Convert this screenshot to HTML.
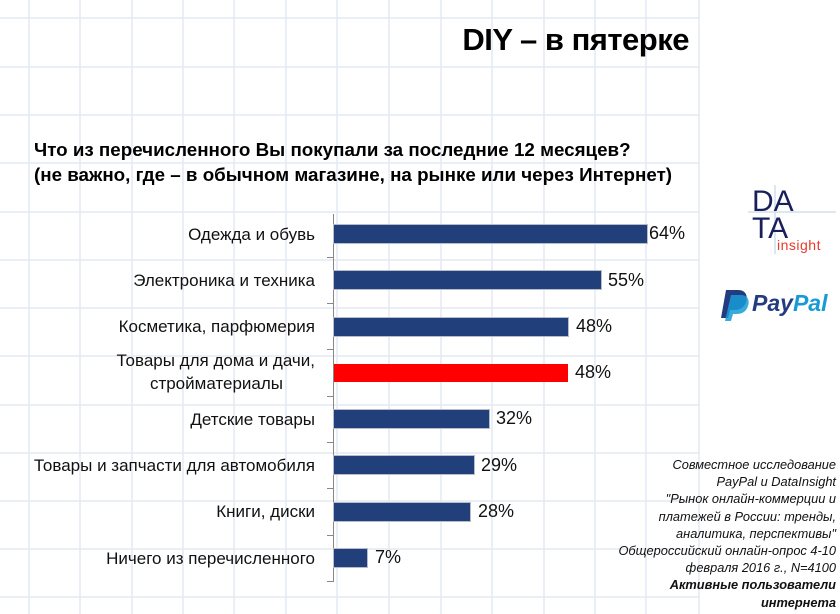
<!DOCTYPE html>
<html><head><meta charset="utf-8"><style>
body{margin:0;width:840px;height:614px;background:#fff;position:relative;overflow:hidden;font-family:"Liberation Sans","Noto Sans CJK SC",sans-serif;}
.a{position:absolute;white-space:nowrap}
.lab{position:absolute;right:525px;font-size:17px;color:#111;text-align:right;letter-spacing:0px;line-height:23px}
.bar{position:absolute;left:334px;height:18px;background:#213f7a;box-shadow:0 0 0 1px #b8bcc6}
.val{position:absolute;font-size:18px;color:#111}
.cap{position:absolute;right:4px;top:456px;text-align:right;font-style:italic;font-size:12.8px;line-height:17.2px;color:#111}
</style></head><body>
<svg class="a" style="left:0;top:0" width="840" height="614">
<g stroke="#e4eaf3" stroke-width="1.6">
<line x1="29" y1="0" x2="29" y2="614"/><line x1="80" y1="0" x2="80" y2="614"/><line x1="132" y1="0" x2="132" y2="614"/><line x1="183" y1="0" x2="183" y2="614"/><line x1="234" y1="0" x2="234" y2="614"/><line x1="286" y1="0" x2="286" y2="614"/><line x1="337" y1="0" x2="337" y2="614"/><line x1="389" y1="0" x2="389" y2="614"/><line x1="441" y1="0" x2="441" y2="614"/><line x1="492" y1="0" x2="492" y2="614"/><line x1="544" y1="0" x2="544" y2="614"/><line x1="595" y1="0" x2="595" y2="614"/><line x1="646" y1="0" x2="646" y2="614"/><line x1="699" y1="0" x2="699" y2="614"/>
<line x1="0" y1="18" x2="700" y2="18"/><line x1="0" y1="67" x2="700" y2="67"/><line x1="0" y1="115" x2="700" y2="115"/><line x1="0" y1="163" x2="700" y2="163"/><line x1="0" y1="212" x2="700" y2="212"/><line x1="0" y1="260" x2="700" y2="260"/><line x1="0" y1="308" x2="700" y2="308"/><line x1="0" y1="356" x2="700" y2="356"/><line x1="0" y1="405" x2="700" y2="405"/><line x1="0" y1="453" x2="700" y2="453"/><line x1="0" y1="501" x2="700" y2="501"/><line x1="0" y1="549" x2="700" y2="549"/><line x1="0" y1="597" x2="700" y2="597"/>
</g>
<g stroke="#888" stroke-width="1">
<line x1="333.5" y1="214" x2="333.5" y2="582"/>
<line x1="327" y1="257.5" x2="333" y2="257.5"/><line x1="327" y1="303.5" x2="333" y2="303.5"/><line x1="327" y1="349.5" x2="333" y2="349.5"/><line x1="327" y1="396.5" x2="333" y2="396.5"/><line x1="327" y1="442.5" x2="333" y2="442.5"/><line x1="327" y1="488.5" x2="333" y2="488.5"/><line x1="327" y1="535.5" x2="333" y2="535.5"/><line x1="327" y1="581.5" x2="333" y2="581.5"/>
</g>
<g stroke="#cfe0ee" stroke-width="1.5"><line x1="775" y1="185" x2="775" y2="254"/><line x1="748" y1="212" x2="836" y2="212"/></g>
<text x="752" y="211" font-family="Liberation Sans" font-size="30" fill="#1a1f5c">DA</text>
<text x="752" y="238" font-family="Liberation Sans" font-size="30" fill="#1a1f5c">TA</text>
<text x="777" y="250" font-family="Liberation Sans" font-size="14" fill="#e8392b" letter-spacing="0.5">insight</text>
<path d="M726 290 h12 c8 0 10 6 8 12 c-2 6 -6 8 -12 8 h-4 l-2 8 h-7z" fill="#253b80"/>
<path d="M731 295 h10 c7 0 9 6 7 11 c-2 6 -6 8 -12 8 h-3 l-2 7 h-6z" fill="#179bd7" opacity="0.85"/>
<text x="752" y="311" font-family="Liberation Sans" font-size="23" font-weight="bold" font-style="italic"><tspan fill="#253b80">Pay</tspan><tspan fill="#179bd7">Pal</tspan></text>
</svg>
<div class="a" style="right:151px;top:22px;font-size:31px;font-weight:bold;color:#000;letter-spacing:-0.5px">DIY – в пятерке</div>
<div class="a" style="left:34px;top:137px;font-size:18.8px;font-weight:bold;line-height:25px;color:#000">Что из перечисленного Вы покупали за последние 12 месяцев?<br>(не важно, где – в обычном магазине, на рынке или через Интернет)</div>

<div class="lab" style="top:223px">Одежда и обувь</div>
<div class="lab" style="top:269px">Электроника и техника</div>
<div class="lab" style="top:315px">Косметика, парфюмерия</div>
<div class="lab" style="top:349px">Товары для дома и дачи,<br><span style="margin-right:32px">стройматериалы</span></div>
<div class="lab" style="top:408px">Детские товары</div>
<div class="lab" style="top:454px">Товары и запчасти для автомобиля</div>
<div class="lab" style="top:500px">Книги, диски</div>
<div class="lab" style="top:547px">Ничего из перечисленного</div>

<div class="bar" style="top:225px;width:313px"></div>
<div class="bar" style="top:271px;width:267px"></div>
<div class="bar" style="top:318px;width:234px"></div>
<div class="bar" style="top:364px;width:234px;background:#ff0000;box-shadow:none"></div>
<div class="bar" style="top:410px;width:155px"></div>
<div class="bar" style="top:456px;width:140px"></div>
<div class="bar" style="top:503px;width:136px"></div>
<div class="bar" style="top:549px;width:33px"></div>

<div class="val" style="left:649px;top:223px">64%</div>
<div class="val" style="left:608px;top:270px">55%</div>
<div class="val" style="left:576px;top:316px">48%</div>
<div class="val" style="left:575px;top:362px">48%</div>
<div class="val" style="left:496px;top:408px">32%</div>
<div class="val" style="left:481px;top:455px">29%</div>
<div class="val" style="left:478px;top:501px">28%</div>
<div class="val" style="left:375px;top:547px">7%</div>

<div class="cap">Совместное исследование<br>PayPal и DataInsight<br>"Рынок онлайн-коммерции и<br>платежей в России: тренды,<br>аналитика, перспективы"<br>Общероссийский онлайн-опрос 4-10<br>февраля 2016 г., N=4100<br><b>Активные пользователи<br>интернета</b></div>
</body></html>
